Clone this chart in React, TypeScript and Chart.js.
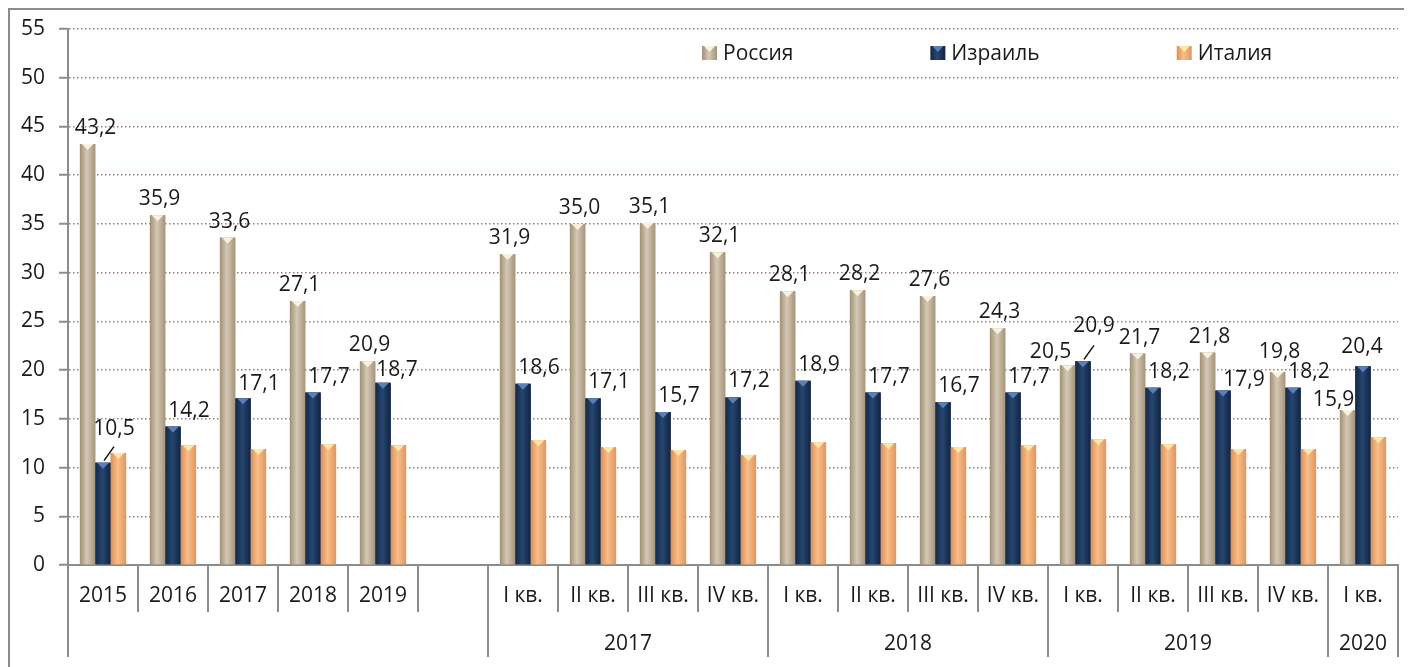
import React, { useEffect, useRef } from 'react';
import { Chart, registerables } from 'chart.js';

Chart.register(...registerables);

const categories = ['2015', '2016', '2017', '2018', '2019', '', 'I кв.', 'II кв.', 'III кв.', 'IV кв.', 'I кв.', 'II кв.', 'III кв.', 'IV кв.', 'I кв.', 'II кв.', 'III кв.', 'IV кв.', 'I кв.'];
const groupLabels = ['', '2017', '2018', '2019', '2020'];
const groupSpans = [6, 4, 4, 4, 1];
const seriesNames = ['Россия', 'Израиль', 'Италия'];
const russia = [43.2, 35.9, 33.6, 27.1, 20.9, null, 31.9, 35.0, 35.1, 32.1, 28.1, 28.2, 27.6, 24.3, 20.5, 21.7, 21.8, 19.8, 15.9];
const israel = [10.5, 14.2, 17.1, 17.7, 18.7, null, 18.6, 17.1, 15.7, 17.2, 18.9, 17.7, 16.7, 17.7, 20.9, 18.2, 17.9, 18.2, 20.4];
const italy = [11.5, 12.3, 11.9, 12.4, 12.3, null, 12.8, 12.1, 11.8, 11.3, 12.6, 12.5, 12.1, 12.3, 12.9, 12.4, 11.9, 11.9, 13.1];
const labelledSeries = [0, 1];
const yMin = 0;
const yMax = 55;
const yStep = 5;

const FONT = '"Open Sans", "Noto Sans", sans-serif';
const TEXT = '#1a1a1a';
const AXIS = '#8c8c8c';

const baseColors = ['#b9a88f', '#1b3459', '#eea56c'];
const shade = [
  ['#a19077', '#d4c8b5', '#a6947c'],
  ['#122848', '#27466f', '#102442'],
  ['#dc8f57', '#f9be89', '#e0965f'],
];
const triColors = ['#f8f1dd', '#5b80b6', '#fde6a6'];

const labelDefaults = [
  { dx: 2, up: 10 },
  { dx: 16, up: 10 },
];
const labelAdjust: Record<string, { dx?: number; up?: number; leader?: boolean }> = {
  '0-0': { dx: 8 },
  '1-0': { dx: 11, up: 28, leader: true },
  '1-2': { up: 8 },
  '1-4': { dx: 14, up: 7 },
  '0-14': { dx: -17, up: 7 },
  '1-14': { dx: 11, up: 29, leader: true },
  '1-16': { dx: 21, up: 5 },
  '0-17': { up: 14 },
  '0-18': { dx: -14, up: 4 },
  '1-18': { dx: -1, up: 13 },
};

const fmt = (v: number) => v.toFixed(1).replace('.', ',');

const overlay = {
  id: 'overlay',
  afterDatasetsDraw(chart: any) {
    const ctx = chart.ctx as CanvasRenderingContext2D;
    ctx.save();
    chart.data.datasets.forEach((ds: any, di: number) => {
      const meta = chart.getDatasetMeta(di);
      meta.data.forEach((bar: any, i: number) => {
        const v = ds.data[i];
        if (v == null) return;
        const { x, y, base, width } = bar.getProps(['x', 'y', 'base', 'width'], true);
        const left = x - width / 2;
        const g = ctx.createLinearGradient(left, 0, left + width, 0);
        g.addColorStop(0, shade[di][0]);
        g.addColorStop(0.45, shade[di][1]);
        g.addColorStop(1, shade[di][2]);
        ctx.fillStyle = g;
        ctx.fillRect(left, y, width, base - y);
        ctx.fillStyle = triColors[di];
        ctx.beginPath();
        ctx.moveTo(x - width * 0.38, y);
        ctx.lineTo(x + width * 0.38, y);
        ctx.lineTo(x, y + 6);
        ctx.closePath();
        ctx.fill();
      });
    });
    ctx.restore();
  },
  afterDraw(chart: any) {
    const ctx = chart.ctx as CanvasRenderingContext2D;
    const area = chart.chartArea;
    const xs = chart.scales.x;
    const n = categories.length;
    const catW = (area.right - area.left) / n;
    ctx.save();

    // separators
    const longB = new Set<number>();
    let acc = 0;
    longB.add(0);
    groupSpans.forEach((s) => { acc += s; longB.add(acc); });
    ctx.strokeStyle = AXIS;
    ctx.lineWidth = 2;
    for (let b = 0; b <= n; b++) {
      const px = Math.round(xs.left + b * catW);
      ctx.beginPath();
      ctx.moveTo(px, area.bottom);
      ctx.lineTo(px, longB.has(b) ? area.bottom + 92 : area.bottom + 47);
      ctx.stroke();
    }

    // group labels
    ctx.fillStyle = TEXT;
    ctx.font = `21px ${FONT}`;
    ctx.textAlign = 'center';
    ctx.textBaseline = 'alphabetic';
    let start = 0;
    groupSpans.forEach((s, gi) => {
      const cx = xs.left + (start + s / 2) * catW;
      if (groupLabels[gi]) ctx.fillText(groupLabels[gi], cx, area.bottom + 85);
      start += s;
    });

    // data labels
    labelledSeries.forEach((di) => {
      const ds = chart.data.datasets[di];
      const meta = chart.getDatasetMeta(di);
      meta.data.forEach((bar: any, i: number) => {
        const v = ds.data[i];
        if (v == null) return;
        const { x, y } = bar.getProps(['x', 'y'], true);
        const adj = labelAdjust[`${di}-${i}`] || {};
        const dx = adj.dx ?? labelDefaults[di].dx;
        const up = adj.up ?? labelDefaults[di].up;
        ctx.fillStyle = TEXT;
        ctx.fillText(fmt(v), x + dx, y - up);
        if (adj.leader) {
          ctx.strokeStyle = '#111';
          ctx.lineWidth = 1.5;
          ctx.beginPath();
          ctx.moveTo(x + 1, y - 2);
          ctx.lineTo(x + 11, y - 16);
          ctx.stroke();
        }
      });
    });

    // legend
    let lx = area.left + 634;
    const by = area.top + 17;
    ctx.textAlign = 'left';
    seriesNames.forEach((name, di) => {
      const g = ctx.createLinearGradient(lx, 0, lx + 15, 0);
      g.addColorStop(0, shade[di][0]);
      g.addColorStop(0.45, shade[di][1]);
      g.addColorStop(1, shade[di][2]);
      ctx.fillStyle = g;
      ctx.fillRect(lx, by, 15, 14);
      ctx.fillStyle = triColors[di];
      ctx.beginPath();
      ctx.moveTo(lx + 2, by);
      ctx.lineTo(lx + 13, by);
      ctx.lineTo(lx + 7.5, by + 6);
      ctx.closePath();
      ctx.fill();
      ctx.fillStyle = TEXT;
      ctx.fillText(name, lx + 21, by + 14);
      const w = ctx.measureText(name).width;
      lx += 21 + w + 137;
    });
    ctx.restore();
  },
};

export default function App() {
  const ref = useRef<HTMLCanvasElement>(null);
  useEffect(() => {
    const canvas = ref.current!;
    const chart = new Chart(canvas, {
      type: 'bar',
      data: {
        labels: categories,
        datasets: [
          { label: seriesNames[0], data: russia, backgroundColor: baseColors[0] },
          { label: seriesNames[1], data: israel, backgroundColor: baseColors[1] },
          { label: seriesNames[2], data: italy, backgroundColor: baseColors[2] },
        ] as any,
      },
      options: {
        responsive: false,
        animation: false,
        devicePixelRatio: 1,
        layout: { padding: { top: 19, right: 14, bottom: 0, left: 0 } },
        plugins: { legend: { display: false }, tooltip: { enabled: false } },
        datasets: { bar: { categoryPercentage: 0.66, barPercentage: 1 } },
        scales: {
          x: {
            offset: true,
            grid: { display: false, drawTicks: false },
            border: { display: true, color: AXIS, width: 2 },
            ticks: { font: { family: FONT, size: 21 }, color: TEXT, padding: 18, maxRotation: 0, autoSkip: false },
            afterFit: (s: any) => { s.height = 102; s.paddingLeft = 0; s.paddingRight = 0; },
          },
          y: {
            min: yMin,
            max: yMax,
            ticks: { stepSize: yStep, font: { family: FONT, size: 21 }, color: TEXT, padding: 14 },
            grid: {
              color: (c: any) => (c.tick && c.tick.value === 0 ? 'rgba(0,0,0,0)' : 'rgba(150,110,90,0.9)'),
              lineWidth: 1.5,
              tickColor: AXIS,
              tickLength: 9,
              tickWidth: 2,
              tickBorderDash: [],
            },
            border: { display: true, color: AXIS, width: 2, dash: [1.5, 2.5] },
            afterFit: (s: any) => { s.width = 58; s.paddingTop = 0; s.paddingBottom = 0; },
          },
        } as any,
      },
      plugins: [overlay],
    });
    return () => chart.destroy();
  }, []);

  return (
    <div
      style={{
        width: 1404,
        height: 659,
        boxSizing: 'border-box',
        borderTop: '2px solid #8c8c8c',
        borderLeft: '2px solid #8c8c8c',
        position: 'relative',
        background: '#fff',
      }}
    >
      <canvas ref={ref} width={1402} height={657} style={{ display: 'block' }} />
    </div>
  );
}
